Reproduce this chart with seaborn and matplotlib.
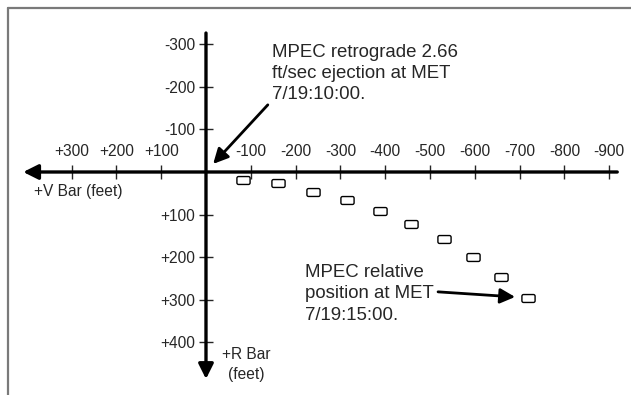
import numpy as np
import matplotlib
matplotlib.use('Agg')
import matplotlib.pyplot as plt
from matplotlib.path import Path
from matplotlib.lines import Line2D
import seaborn as sns
import pandas as pd

# MPEC relative positions (feet): V bar (negative = retrograde) and R bar
v_bar = [-83, -161, -239, -315, -388, -458, -531, -596, -659, -719]
r_bar = [19, 26, 47, 66, 92, 122, 158, 200, 247, 296]

x_ticks = [300, 200, 100, -100, -200, -300, -400, -500, -600, -700, -800, -900]
x_tick_labels = ['+300', '+200', '+100', '-100', '-200', '-300', '-400',
                 '-500', '-600', '-700', '-800', '-900']
y_ticks = [-300, -200, -100, 100, 200, 300, 400]
y_tick_labels = ['-300', '-200', '-100', '+100', '+200', '+300', '+400']

df = pd.DataFrame({'V Bar': v_bar, 'R Bar': r_bar})

sns.set_style('white')
plt.rcParams['font.family'] = ['Liberation Sans', 'DejaVu Sans']


def rounded_rect(w=1.0, h=0.6, r=0.25, n=8):
    # small rounded box used as the marker shape
    verts = []
    corners = [(w - r, h - r, 0), (-w + r, h - r, 90), (-w + r, -h + r, 180), (w - r, -h + r, 270)]
    for cx, cy, a0 in corners:
        t = np.radians(np.linspace(a0, a0 + 90, n))
        verts += list(zip(cx + r * np.cos(t), cy + r * np.sin(t)))
    verts.append(verts[0])
    codes = [Path.MOVETO] + [Path.LINETO] * (len(verts) - 2) + [Path.CLOSEPOLY]
    return Path(verts, codes)


fig = plt.figure(figsize=(6.31, 3.95), dpi=100)
ax = fig.add_axes([0, 0, 1, 1])
ax.set_xlim(459.8, -948.7)
ax.set_ylim(524.7, -404.7)

sns.scatterplot(data=df, x='V Bar', y='R Bar', marker=rounded_rect(), s=90,
                facecolor='white', edgecolor='black', linewidth=1.0, ax=ax, zorder=5)

# axes through the origin with cross ticks
for s in ['right', 'bottom']:
    ax.spines[s].set_visible(False)
ax.spines['top'].set_position(('data', 0))
ax.spines['left'].set_position(('data', 0))
ax.spines['top'].set_visible(False)
ax.spines['left'].set_visible(False)
ax.xaxis.set_ticks_position('top')
ax.yaxis.set_ticks_position('left')
ax.set_xticks(x_ticks, x_tick_labels)
ax.set_yticks(y_ticks, y_tick_labels)
ax.tick_params(axis='x', direction='inout', length=10, width=1.0, pad=4, labelsize=11.2)
ax.tick_params(axis='y', direction='inout', length=10, width=1.0, pad=3, labelsize=11.2)
ax.set_xlabel('')
ax.set_ylabel('')

axis_arrow = dict(arrowstyle='-|>,head_length=0.9,head_width=0.45', color='black',
                  lw=2.4, shrinkA=0, shrinkB=0)
ax.annotate('', xy=(408, 0), xytext=(-918, 0), arrowprops=axis_arrow)
ax.annotate('', xy=(0, 487), xytext=(0, -327), arrowprops=axis_arrow)

ax.text(384, 47, '+V Bar (feet)', fontsize=11.2, ha='left', va='center')
ax.text(-89, 411, '+R Bar\n(feet)', fontsize=11.2, ha='center', va='top', linespacing=1.42)

note_arrow = dict(arrowstyle='-|>,head_length=0.9,head_width=0.45', color='black',
                  lw=2.0, shrinkA=0, shrinkB=0)
ax.text(-147, -302, 'MPEC retrograde 2.66\nft/sec ejection at MET\n7/19:10:00.',
        fontsize=13.4, ha='left', va='top', linespacing=1.32)
ax.annotate('', xy=(-16, -19), xytext=(-138, -158), arrowprops=note_arrow)

ax.text(-221, 217, 'MPEC relative\nposition at MET\n7/19:15:00.',
        fontsize=13.4, ha='left', va='top', linespacing=1.32)
ax.annotate('', xy=(-690, 294), xytext=(-518, 282), arrowprops=note_arrow)

# grey frame lines at top and left
fig.add_artist(Line2D([8 / 631, 1], [1 - 8 / 395, 1 - 8 / 395], transform=fig.transFigure,
                      color='#7a7a7a', lw=1.6))
fig.add_artist(Line2D([8 / 631, 8 / 631], [0, 1 - 8 / 395], transform=fig.transFigure,
                      color='#7a7a7a', lw=1.6))

fig.savefig('out.png', dpi=100)
